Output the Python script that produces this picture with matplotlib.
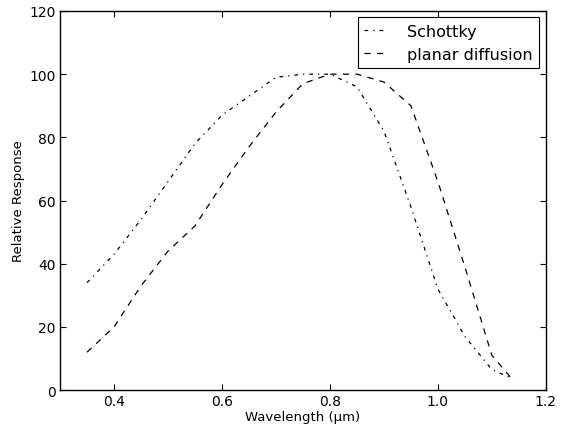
import matplotlib
matplotlib.use("Agg")
import matplotlib.pyplot as plt

# wavelength (um) and relative response
wavelength = [0.35, 0.40, 0.45, 0.50, 0.55, 0.60, 0.65, 0.70, 0.75, 0.80,
              0.85, 0.90, 0.95, 1.00, 1.05, 1.10, 1.14]
schottky = [34, 43, 54, 66, 78, 87, 93, 99, 100, 100,
            96, 82, 58, 32, 17, 6.5, 3.5]
planar = [12, 20, 33, 44, 52, 65, 77, 88, 97, 100,
          100, 97.5, 90, 66, 39, 11, 3]

xticks = [0.4, 0.6, 0.8, 1.0, 1.2]
yticks = [0, 20, 40, 60, 80, 100, 120]

plt.rcParams["font.family"] = "DejaVu Sans"
plt.rcParams["xtick.direction"] = "in"
plt.rcParams["ytick.direction"] = "in"

fig = plt.figure(figsize=(5.61, 4.27), dpi=100)
ax = fig.add_axes([0.107, 0.084, 0.866, 0.888])

ax.plot(wavelength, schottky, color="black", lw=0.9, dashes=(3, 4, 1, 4), label="Schottky")
ax.plot(wavelength, planar, color="black", lw=0.9, dashes=(5, 5), label="planar diffusion")

ax.set_xlim(0.3, 1.2)
ax.set_ylim(0, 120)
ax.set_xticks(xticks)
ax.set_yticks(yticks)
ax.tick_params(top=True, right=True, labelsize=10, length=4, width=0.8, pad=3)
for s in ax.spines.values():
    s.set_linewidth(1.0)

ax.set_xlabel("Wavelength (\u03bcm)", fontsize=9.5, labelpad=1)
ax.set_ylabel("Relative Response", fontsize=9.5, labelpad=3)

leg = ax.legend(loc="upper right", fontsize=11.5, handlelength=1.3, handletextpad=1.4,
                fancybox=False, framealpha=1, edgecolor="black", borderaxespad=0.4)
leg.get_frame().set_linewidth(0.8)

fig.savefig("out.png", dpi=100)
